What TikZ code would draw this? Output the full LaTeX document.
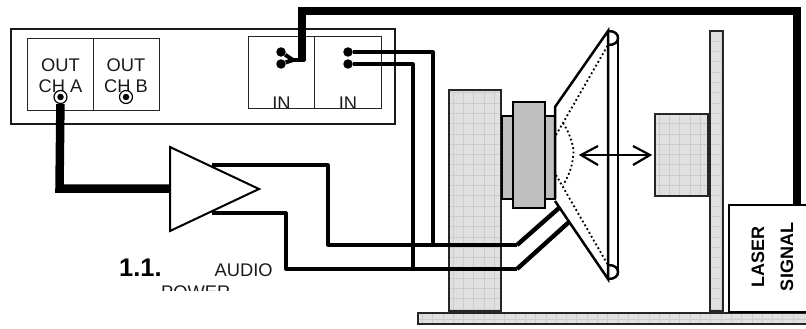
\documentclass[tikz,border=0pt]{standalone}
\usepackage{fontspec}
\setmainfont{Liberation Sans}
\newcommand{\gridrect}[4]{%
  \fill[gridfill] (#1,#2) rectangle (#3,#4);
  \begin{scope}
    \clip (#1,#2) rectangle (#3,#4);
    \foreach \gx in {0,10.3,...,800} {\draw[gridline] (\gx,#2) -- (\gx,#4);}
    \foreach \gy in {0,10.3,...,330} {\draw[gridline] (#1,\gy) -- (#3,\gy);}
  \end{scope}
  \draw[partline] (#1,#2) rectangle (#3,#4);
}
\tikzset{
  x=1pt, y=-1pt,
  gridfill/.style={fill=black!12},
  gridline/.style={draw=black!20, line width=0.7pt},
  partline/.style={draw=black!85, line width=2.2pt},
  coil/.style={draw=black, fill=black!25, line width=2.6pt},
  thinbox/.style={draw=black!85, line width=1pt},
  framebox/.style={draw=black!90, line width=2.2pt},
  thickwire/.style={draw=black, line width=8.5pt, line join=miter},
  wire/.style={draw=black, line width=3.2pt, line join=round},
  conewire/.style={draw=black, line width=4.4pt, line join=round},
  cone/.style={draw=black, line width=2.5pt},
  dots/.style={draw=black, line width=1.8pt, dash pattern=on 1.8pt off 2.6pt},
  pin/.style={fill=black, circle, inner sep=0pt, minimum size=9.5pt},
  lbl/.style={inner sep=0pt, font=\fontsize{18.3}{20}\selectfont, text=black!90},
  vert/.style={inner sep=0pt, rotate=90, font=\fontsize{18}{20}\selectfont\bfseries}
}
\begin{document}
\begin{tikzpicture}
\useasboundingbox (0,0) rectangle (806,329);
% signal generator
\draw[framebox] (11,29) rectangle (395,124);
\draw[thinbox] (27,39) rectangle (159,110);
\draw[thinbox] (93,39) -- (93,110);
\draw[thinbox] (248,37) rectangle (381,108);
\draw[thinbox] (314,37) -- (314,108);
\node[lbl, anchor=base] (outa) at (60.5,71) {OUT};
\node[lbl, anchor=base] (cha) at (60.5,92.5) {CH A};
\node[lbl, anchor=base] (outb) at (126,71) {OUT};
\node[lbl, anchor=base] (chb) at (126,92.5) {CH B};
\begin{scope}
  \clip (248,37) rectangle (381,107);
  \node[lbl, anchor=base] (ina) at (281.5,110) {IN};
  \node[lbl, anchor=base] (inb) at (348,110) {IN};
\end{scope}
% speaker parts
\gridrect{449}{90}{501}{311}
\draw[coil] (502,116) rectangle (555,199);
\draw[coil] (513,102) rectangle (545,208);
\gridrect{710}{31}{723}{311}
\gridrect{655}{114}{708}{196}
\gridrect{418}{313}{807}{324}
% cone
\draw[cone] (555,199) -- (555,107) -- (608,31) -- (608,279) -- (555,201);
\draw[cone] (618,38) -- (618,272);
\draw[cone] (608,31) .. controls (615,31) and (618,34) .. (618,38) .. controls (618,42) and (615,45) .. (608,45);
\draw[cone] (608,265) .. controls (615,265) and (618,268) .. (618,272) .. controls (618,276) and (615,279) .. (608,279);
\draw[dots] (556,135) -- (608,45);
\draw[dots] (556,175) -- (608,265);
\draw[dots] (563,123) .. controls (571,135) and (575,150) .. (573,157) .. controls (572,168) and (568,177) .. (563,185);
% motion arrow
\coordinate (arrl) at (581,155);
\coordinate (arrr) at (650,155);
\draw[line width=2.2pt] (arrl) -- (arrr);
\draw[line width=2.2pt] (598,146) -- (arrl) -- (598,165);
\draw[line width=2.2pt] (633,146) -- (arrr) -- (633,165);
% laser box
\node[draw=black, line width=2.2pt, fill=white, minimum width=90pt, minimum height=107pt, anchor=north west, inner sep=0pt] (laser) at (728,204) {};
\node[vert] (lasertxt) at (758,257) {LASER};
\node[vert] (signaltxt) at (787,257) {SIGNAL};
% jacks
\node[draw=black, fill=white, circle, line width=1.2pt, minimum size=13pt, inner sep=0pt] (jacka) at (60.5,97) {};
\node[fill=black, circle, minimum size=6.5pt, inner sep=0pt] (jackadot) at (60.5,97) {};
\node[draw=black, fill=white, circle, line width=1.2pt, minimum size=13pt, inner sep=0pt] (jackb) at (126,97) {};
\node[fill=black, circle, minimum size=6.5pt, inner sep=0pt] (jackbdot) at (126,97) {};
% amplifier
\coordinate (ampa) at (170,147);
\coordinate (ampb) at (170,231);
\coordinate (ampc) at (259,189);
\coordinate (ampin) at (170,188.5);
\coordinate (ampoa) at (212,165);
\coordinate (ampob) at (212,213);
% pins
\node[pin] (p1) at (281,52) {};
\node[pin] (p2) at (281,64) {};
\node[pin] (p3) at (348,52) {};
\node[pin] (p4) at (348,64) {};
\coordinate (fork) at (293,60);
\coordinate (forkend) at (305,60);
\coordinate (vca) at (559,208);
\coordinate (vcb) at (569,222);
% wires
\draw[wire] (p3) -- (433,52) -- (433,245);
\draw[wire] (p4) -- (413,64) -- (413,269);
\draw[wire] (ampoa) -- (328,165) -- (328,245) -- (517,245);
\draw[conewire] (517,245) -- (vca);
\draw[wire] (ampob) -- (286,213) -- (286,269) -- (517,269);
\draw[conewire] (517,269) -- (vcb);
\draw[wire, line width=4pt] (p1) -- (fork) -- (p2);
\draw[wire, line width=4pt] (fork) -- (forkend);
\draw[thickwire] (302,61) -- (302,11) -- (797,11) -- (797,204);
\draw[thickwire] (jacka) -- (59.5,188.5) -- (ampin);
\draw[draw=black, fill=white, line width=2pt, line join=miter] (ampa) -- (ampc) -- (ampb) -- cycle;
% labels
\node[inner sep=0pt, anchor=base west, font=\fontsize{25.5}{28}\selectfont\bfseries] (sec) at (119,276) {1.1.};
\node[lbl, anchor=base west] (audio) at (214.5,276) {AUDIO};
\begin{scope}
  \clip (100,280) rectangle (300,290);
  \node[lbl, anchor=base west] (power) at (161,298) {POWER};
\end{scope}
\end{tikzpicture}
\end{document}
